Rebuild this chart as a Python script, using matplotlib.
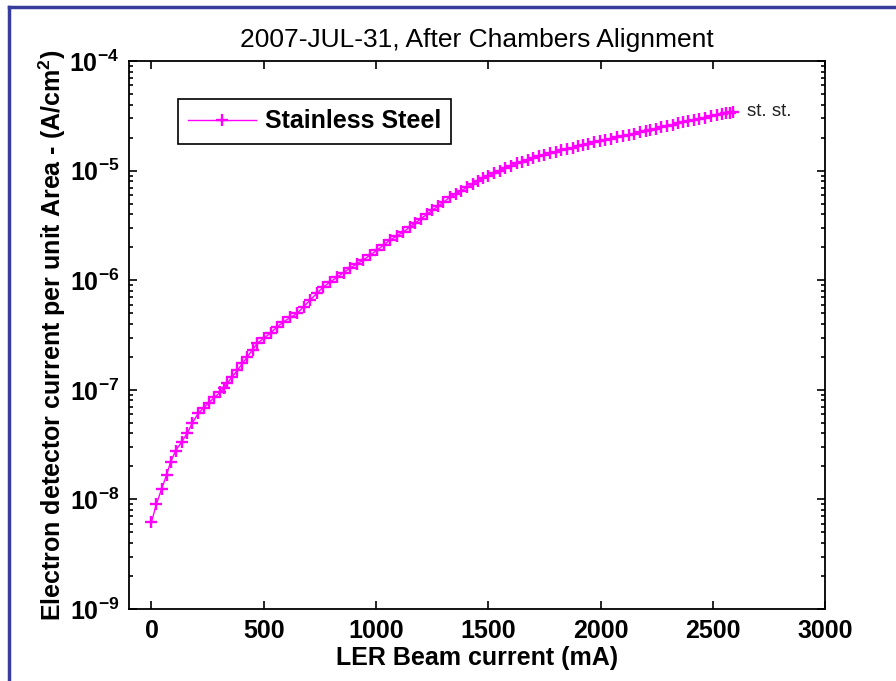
import matplotlib
matplotlib.use("Agg")
import matplotlib.pyplot as plt
from matplotlib.lines import Line2D
from matplotlib.ticker import LogLocator, MultipleLocator, NullFormatter

plt.rcParams["font.family"] = ["Liberation Sans", "DejaVu Sans"]
plt.rcParams["mathtext.fontset"] = "custom"
plt.rcParams["mathtext.rm"] = "Liberation Sans:bold"
plt.rcParams["mathtext.default"] = "rm"

# LER beam current (mA)
beam_current = [
    0, 22, 45, 67, 85, 107, 134, 160, 182, 209, 232, 254, 280, 307, 322, 338,
    360, 383, 405, 427, 450, 472, 500, 530, 558, 587, 618, 650, 678, 707, 736,
    765, 796, 828, 856, 885, 914, 943, 975, 1006, 1035, 1063, 1092, 1121, 1150,
    1175, 1200, 1225, 1250, 1275, 1300, 1330, 1355, 1380, 1405, 1430, 1455,
    1477, 1500, 1525, 1550, 1575, 1600, 1628, 1650, 1675, 1700, 1725, 1750,
    1775, 1800, 1825, 1850, 1875, 1900, 1922, 1945, 1970, 1995, 2020, 2045,
    2074, 2100, 2125, 2150, 2175, 2200, 2220, 2245, 2270, 2295, 2320, 2345,
    2367, 2390, 2415, 2440, 2465, 2490, 2518, 2540, 2560, 2575, 2590,
]

# electron detector current per unit area (A/cm^2), stainless steel
detector_current = [
    6.22e-9, 9.08e-9, 1.245e-8, 1.67e-8, 2.19e-8, 2.77e-8, 3.34e-8, 4.04e-8,
    4.98e-8, 6.14e-8, 6.82e-8, 7.59e-8, 8.51e-8, 9.55e-8, 1.035e-7, 1.15e-7,
    1.32e-7, 1.51e-7, 1.74e-7, 2.0e-7, 2.32e-7, 2.67e-7, 2.95e-7, 3.30e-7,
    3.72e-7, 4.16e-7, 4.57e-7, 5.01e-7, 5.75e-7, 6.61e-7, 7.59e-7, 8.67e-7,
    9.64e-7, 1.07e-6, 1.175e-6, 1.29e-6, 1.41e-6, 1.53e-6, 1.70e-6, 1.89e-6,
    2.10e-6, 2.33e-6, 2.53e-6, 2.75e-6, 3.05e-6, 3.33e-6, 3.63e-6, 3.98e-6,
    4.33e-6, 4.72e-6, 5.16e-6, 5.74e-6, 6.14e-6, 6.58e-6, 7.03e-6, 7.53e-6,
    8.05e-6, 8.55e-6, 8.97e-6, 9.46e-6, 9.95e-6, 1.05e-5, 1.107e-5, 1.17e-5,
    1.21e-5, 1.253e-5, 1.30e-5, 1.35e-5, 1.40e-5, 1.45e-5, 1.49e-5, 1.535e-5,
    1.58e-5, 1.62e-5, 1.67e-5, 1.71e-5, 1.76e-5, 1.81e-5, 1.86e-5, 1.91e-5,
    1.96e-5, 2.03e-5, 2.08e-5, 2.13e-5, 2.18e-5, 2.24e-5, 2.30e-5, 2.34e-5,
    2.41e-5, 2.48e-5, 2.55e-5, 2.63e-5, 2.70e-5, 2.77e-5, 2.84e-5, 2.90e-5,
    2.98e-5, 3.05e-5, 3.13e-5, 3.21e-5, 3.28e-5, 3.34e-5, 3.39e-5, 3.43e-5,
]

series_label = "Stainless Steel"
end_label = "st. st."
magenta = "#ff00ff"

fig = plt.figure(figsize=(8.96, 6.81), dpi=100)
ax = fig.add_axes([0.144, 0.1057, 0.777, 0.8047])

ax.semilogy(beam_current, detector_current, color=magenta, lw=1.0,
            marker="+", markersize=9, markeredgewidth=1.7, label=series_label)
ax.text(beam_current[-1] + 60, detector_current[-1], end_label,
        fontsize=13.5, color="#222222", va="center", ha="left")

ax.set_xlim(-100, 3000)
ax.set_ylim(1e-9, 1e-4)
ax.xaxis.set_major_locator(MultipleLocator(500))
ax.yaxis.set_major_locator(LogLocator(base=10, numticks=10))
ax.yaxis.set_minor_locator(LogLocator(base=10, subs=range(2, 10), numticks=10))
ax.yaxis.set_minor_formatter(NullFormatter())

ax.tick_params(which="both", direction="in", top=True, right=True,
               labelsize=18, width=1.2)
ax.tick_params(which="major", length=6, pad=7)
ax.tick_params(which="minor", length=3)
for lbl in ax.get_xticklabels() + ax.get_yticklabels():
    lbl.set_fontweight("bold")
for sp in ax.spines.values():
    sp.set_linewidth(1.3)

ax.set_title("2007-JUL-31, After Chambers Alignment", fontsize=19, pad=10)
ax.set_xlabel("LER Beam current (mA)", fontsize=18, fontweight="bold",
              labelpad=2)
ax.set_ylabel("Electron detector current per unit Area - (A/cm$^2$)",
              fontsize=18, fontweight="bold", labelpad=1)

leg = ax.legend(loc="upper left", bbox_to_anchor=(0.07, 0.931),
                borderaxespad=0, prop={"weight": "bold", "size": 18},
                fancybox=False, framealpha=1, edgecolor="black",
                handlelength=2.7, handletextpad=0.35, borderpad=0.42)
leg.get_frame().set_linewidth(1.2)

# blue frame around the slide
frame = "#383c9c"
fig.add_artist(Line2D([9 / 896, 1], [1 - 7 / 681, 1 - 7 / 681],
                      color=frame, lw=2.5, transform=fig.transFigure))
fig.add_artist(Line2D([9 / 896, 9 / 896], [0, 1 - 7 / 681],
                      color=frame, lw=2.5, transform=fig.transFigure))

fig.savefig("out.png", dpi=100)
